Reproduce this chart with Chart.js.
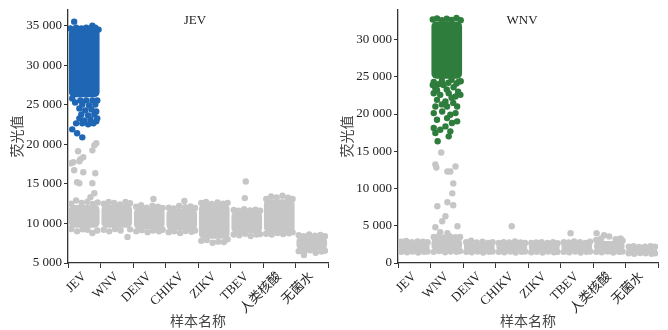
<!DOCTYPE html>
<html><head><meta charset="utf-8">
<script src="https://cdn.jsdelivr.net/npm/chart.js@4.4.1/dist/chart.umd.min.js"></script>
<style>
html,body{margin:0;padding:0;background:#fff;}
#wrap{position:relative;width:668px;height:330px;overflow:hidden;}
.box{position:absolute;top:0;width:334px;height:330px;}
</style></head><body>
<div id="wrap">
<div class="box" style="left:0"><canvas id="c1" width="334" height="330"></canvas></div>
<div class="box" style="left:334px"><canvas id="c2" width="334" height="330"></canvas></div>
</div>
<script>
// ---------- data ----------
const categories = ['JEV','WNV','DENV','CHIKV','ZIKV','TBEV','人类核酸','无菌水'];
const panelTitles = ['JEV','WNV'];
const yAxisTitle = '荧光值';
const xAxisTitle = '样本名称';

// Left panel (JEV probe): dense core of each strip (low / high)
const jevBandLow  = [9500, 9500, 9300, 9200, 8100, 8800, 8900, 6700];
const jevBandHigh = [12300,12300,11900,11800,12400,11500,13000,8300];
const jevPositiveBand = [26000, 34600];
// scattered JEV-positive points (x = category index + jitter)
const jevPosX = [-0.31,0.25,-0.43,-0.25,-0.09,0.06,0.19,0.34,0.44,
  -0.12,0.06,0.25,0.40,-0.37,-0.28,-0.06,0.15,0.34,-0.15,0.03,0.22,0.37,-0.09,0.12,0.31,
  -0.15,0.00,0.19,0.37,-0.06,0.12,0.28,0.40,-0.25,-0.37,-0.22,-0.06];
const jevPosY = [35500,35000,34650,34750,34650,34750,34650,34750,34500,
  25550,25550,25550,25550,25800,25290,25040,24920,25040,24540,24290,24410,24160,23780,23660,23780,
  23280,23030,23150,22900,22650,22520,22650,23280,22650,21890,21390,20880];
// scattered negative points, left panel
const jevNegX = [
  -0.40,-0.25,-0.08,0.10,0.27,0.41,-0.40,-0.22,-0.05,0.25,0.10,0.40,
  0.37,0.31,0.25,-0.19,-0.34,-0.12,-0.03,-0.41,-0.15,-0.31,-0.03,0.34,-0.22,-0.15,0.25,0.31,0.19,
  0.60,0.75,0.92,1.10,1.27,1.41,0.60,0.77,0.95,1.12,1.33,1.41,
  1.60,1.75,1.92,2.10,2.27,2.41,2.13,1.60,1.77,1.95,2.12,2.30,2.41,
  2.60,2.75,2.92,3.10,3.27,3.41,3.08,2.60,2.77,2.95,3.12,3.30,3.41,
  3.60,3.75,3.92,4.10,4.27,4.41,3.60,3.77,3.95,4.12,4.30,4.41,
  4.60,4.75,4.92,5.10,5.27,5.41,4.97,4.94,4.60,4.77,4.95,5.12,5.30,5.41,
  5.60,5.75,5.92,6.10,6.27,6.41,5.60,5.77,5.95,6.12,6.30,6.41,
  6.60,6.75,6.92,7.10,7.27,7.41,6.60,6.77,6.95,7.12,7.30,7.41,6.76];
const jevNegY = [
  12500,12900,12600,12750,12450,12650,9300,9000,9250,8800,9200,9100,
  20130,19870,19240,19120,17730,18110,18360,17600,17860,16720,16470,16340,15210,15080,15080,13820,13320,
  12500,12700,12600,12400,12700,12550,9200,9000,9300,9100,8300,9250,
  12100,12300,12000,12250,12100,11950,13100,9000,9150,8900,9100,9000,9200,
  12000,11900,12200,12050,12150,11950,12850,8900,9000,8800,9050,8950,9100,
  12600,12700,12450,12650,12500,12600,7800,7900,7550,7700,7650,8000,
  11700,11600,11800,11650,11750,11600,15300,13200,8600,8500,8700,8400,8600,8650,
  13100,13400,13300,13500,13250,13100,8700,8600,8800,8650,8750,8900,
  8500,8400,8600,8450,8550,8400,6500,6400,6600,6300,6450,6550,6000];

// Right panel (WNV probe)
const wnvBandLow  = [1700,1700,1700,1700,1650,1700,1700,1450];
const wnvBandHigh = [2700,3300,2600,2600,2600,2600,2900,2100];
const wnvPositiveBand = [24800, 32400];
const wnvPosX = [0.57,0.70,0.85,1.00,1.15,1.30,1.43,
  0.60,0.75,0.85,1.05,1.15,1.30,1.43,0.70,1.00,1.35,0.57,1.15,0.85,1.20,
  0.65,0.90,1.21,1.37,0.60,0.80,1.06,1.27,1.42,0.70,0.96,0.65,1.01,1.32,0.60,0.86,1.11,1.27,
  0.70,1.01,1.16,1.32,0.96,0.60,0.80,1.11,0.65,1.06,0.72];
const wnvPosY = [32700,32850,32600,32800,32650,32900,32600,
  24300,24000,24500,24200,24600,24100,24400,23200,23300,23000,23900,22200,21300,21500,
  23470,23910,23600,24360,22800,22580,22800,22350,22580,21910,21680,21020,21020,21020,20130,20350,19910,20130,
  19240,19460,18800,19020,18340,18130,17900,17680,17460,17010,16340];
const wnvNegX = [
  -0.40,-0.25,-0.08,0.10,0.27,0.41,-0.40,-0.22,-0.05,0.12,0.30,0.41,
  0.60,0.75,0.92,1.10,1.27,1.41,0.60,0.77,0.95,1.12,1.30,1.41,
  0.83,0.65,0.68,1.02,1.27,1.11,1.20,1.17,1.02,1.20,0.71,0.96,0.86,0.65,1.33,0.80,1.02,
  1.60,1.75,1.92,2.10,2.27,2.41,1.60,1.77,1.95,2.12,2.30,2.41,
  2.60,2.75,2.92,3.10,3.27,3.41,3.00,2.60,2.77,2.95,3.12,3.30,3.41,
  3.60,3.75,3.92,4.10,4.27,4.41,3.60,3.77,3.95,4.12,4.30,4.41,
  4.60,4.75,4.92,5.10,5.27,5.41,4.81,4.60,4.77,4.95,5.12,5.30,5.41,
  5.60,5.61,5.84,6.00,6.35,6.20,6.41,5.75,5.60,5.77,5.95,6.12,6.30,6.41,
  6.60,6.75,6.92,7.10,7.27,7.41,6.60,6.77,6.95,7.12,7.30,7.41];
const wnvNegY = [
  2850,2950,2800,2900,2850,2800,1500,1450,1550,1400,1500,1550,
  3500,3600,3400,3550,3450,3500,1500,1600,1450,1550,1500,1600,
  14830,13230,12830,12290,12960,12290,10690,9350,8150,7750,7620,6280,5610,4810,4940,4140,4010,
  2800,3000,2750,2850,2700,2800,1500,1450,1550,1400,1500,1550,
  2700,2800,2750,2900,2750,2700,4940,1500,1450,1550,1400,1500,1550,
  2700,2750,2800,2700,2800,2650,1450,1500,1400,1550,1450,1500,
  2800,2750,2900,2800,2700,2850,4010,1500,1450,1550,1400,1500,1550,
  3100,4010,3740,3570,3300,3200,3000,3300,1500,1450,1550,1400,1500,1550,
  2200,2250,2150,2200,2250,2200,1300,1250,1350,1300,1250,1300];

const jevTicks = [5000,10000,15000,20000,25000,30000,35000];
const wnvTicks = [0,5000,10000,15000,20000,25000,30000];

// ---------- style ----------
const GRAY = '#c6c6c6', BLUE = '#1f66b4', GREEN = '#2e7d3c';
const AX = '#333';
const serif = "'Liberation Serif','Times New Roman','Noto Sans CJK SC',serif";
const cjk = "'Noto Sans CJK SC','Liberation Serif',sans-serif";

function fmt(v){ return String(v).replace(/\B(?=(\d{3})+(?!\d))/g,' '); }
function pts(xs, ys){ return xs.map((x,i)=>({x:x, y:ys[i]})); }

function makeChart(id, o){
  const titlePlugin = {
    id:'panelTitle',
    afterDraw(chart){
      const ctx = chart.ctx, a = chart.chartArea;
      ctx.save();
      ctx.font = "13px " + serif;
      ctx.fillStyle = '#222';
      ctx.textAlign = 'center'; ctx.textBaseline = 'middle';
      ctx.fillText(o.title, (a.left + a.right)/2 + o.titleDx, 21);
      ctx.restore();
    }
  };
  return new Chart(document.getElementById(id), {
    type:'bar',
    data:{ datasets:[
      {type:'scatter', data: pts(o.posX,o.posY), backgroundColor:o.color, pointRadius:3.2, pointBorderWidth:0, order:1},
      {type:'bar', data:[{x:o.posIndex, y:o.posBand}], backgroundColor:o.color, order:2},
      {type:'scatter', data: pts(o.negX,o.negY), backgroundColor:GRAY, pointRadius:3.2, pointBorderWidth:0, order:3},
      {type:'bar', data: categories.map((c,i)=>({x:i, y:[o.low[i], o.high[i]]})), backgroundColor:GRAY, order:4}
    ]},
    plugins:[titlePlugin],
    options:{
      responsive:false, animation:false, devicePixelRatio:1,
      layout:{padding:{top:9, right:o.padRight, left:0, bottom:0}},
      datasets:{bar:{grouped:false, barThickness:30, borderRadius:5, borderSkipped:false}},
      plugins:{legend:{display:false}, tooltip:{enabled:false}},
      scales:{
        x:{type:'linear', min:-0.5, max:7.5, offset:false,
           afterBuildTicks:s=>{ s.ticks = categories.map((c,i)=>({value:i})); },
           afterFit:s=>{ s.height = 67; },
           grid:{display:true, drawOnChartArea:false, drawTicks:true, tickLength:5, color:AX, lineWidth:1},
           border:{display:true, color:AX, width:1.3},
           ticks:{autoSkip:false, minRotation:45, maxRotation:45, padding:1, color:'#222',
                  font:{family:serif, size:13}, callback:v=>categories[v]},
           title:{display:true, text:xAxisTitle, color:'#444', font:{family:cjk, size:14}, padding:{top:0,bottom:1}}
        },
        y:{type:'linear', min:o.yMin, max:o.yMax,
           afterBuildTicks:s=>{ s.ticks = o.ticks.map(v=>({value:v})); },
           afterFit:s=>{ s.width = o.yWidth; },
           grid:{display:true, drawOnChartArea:false, drawTicks:true, tickLength:4, color:AX, lineWidth:1},
           border:{display:true, color:AX, width:1.3},
           ticks:{padding:2, color:'#222', font:{family:serif, size:13}, callback:v=>fmt(v)},
           title:{display:true, text:yAxisTitle, color:'#444', font:{family:cjk, size:14}, padding:{top:o.yTitlePad, bottom:0}}
        }
      }
    }
  });
}

makeChart('c1', {title:panelTitles[0], titleDx:-3, color:BLUE, posIndex:0, posBand:jevPositiveBand,
  posX:jevPosX, posY:jevPosY, negX:jevNegX, negY:jevNegY, low:jevBandLow, high:jevBandHigh,
  yMin:5000, yMax:37000, ticks:jevTicks, yWidth:68, padRight:6, yTitlePad:8});
makeChart('c2', {title:panelTitles[1], titleDx:-6, color:GREEN, posIndex:1, posBand:wnvPositiveBand,
  posX:wnvPosX, posY:wnvPosY, negX:wnvNegX, negY:wnvNegY, low:wnvBandLow, high:wnvBandHigh,
  yMin:0, yMax:34000, ticks:wnvTicks, yWidth:64, padRight:10, yTitlePad:4});
</script>
</body></html>
